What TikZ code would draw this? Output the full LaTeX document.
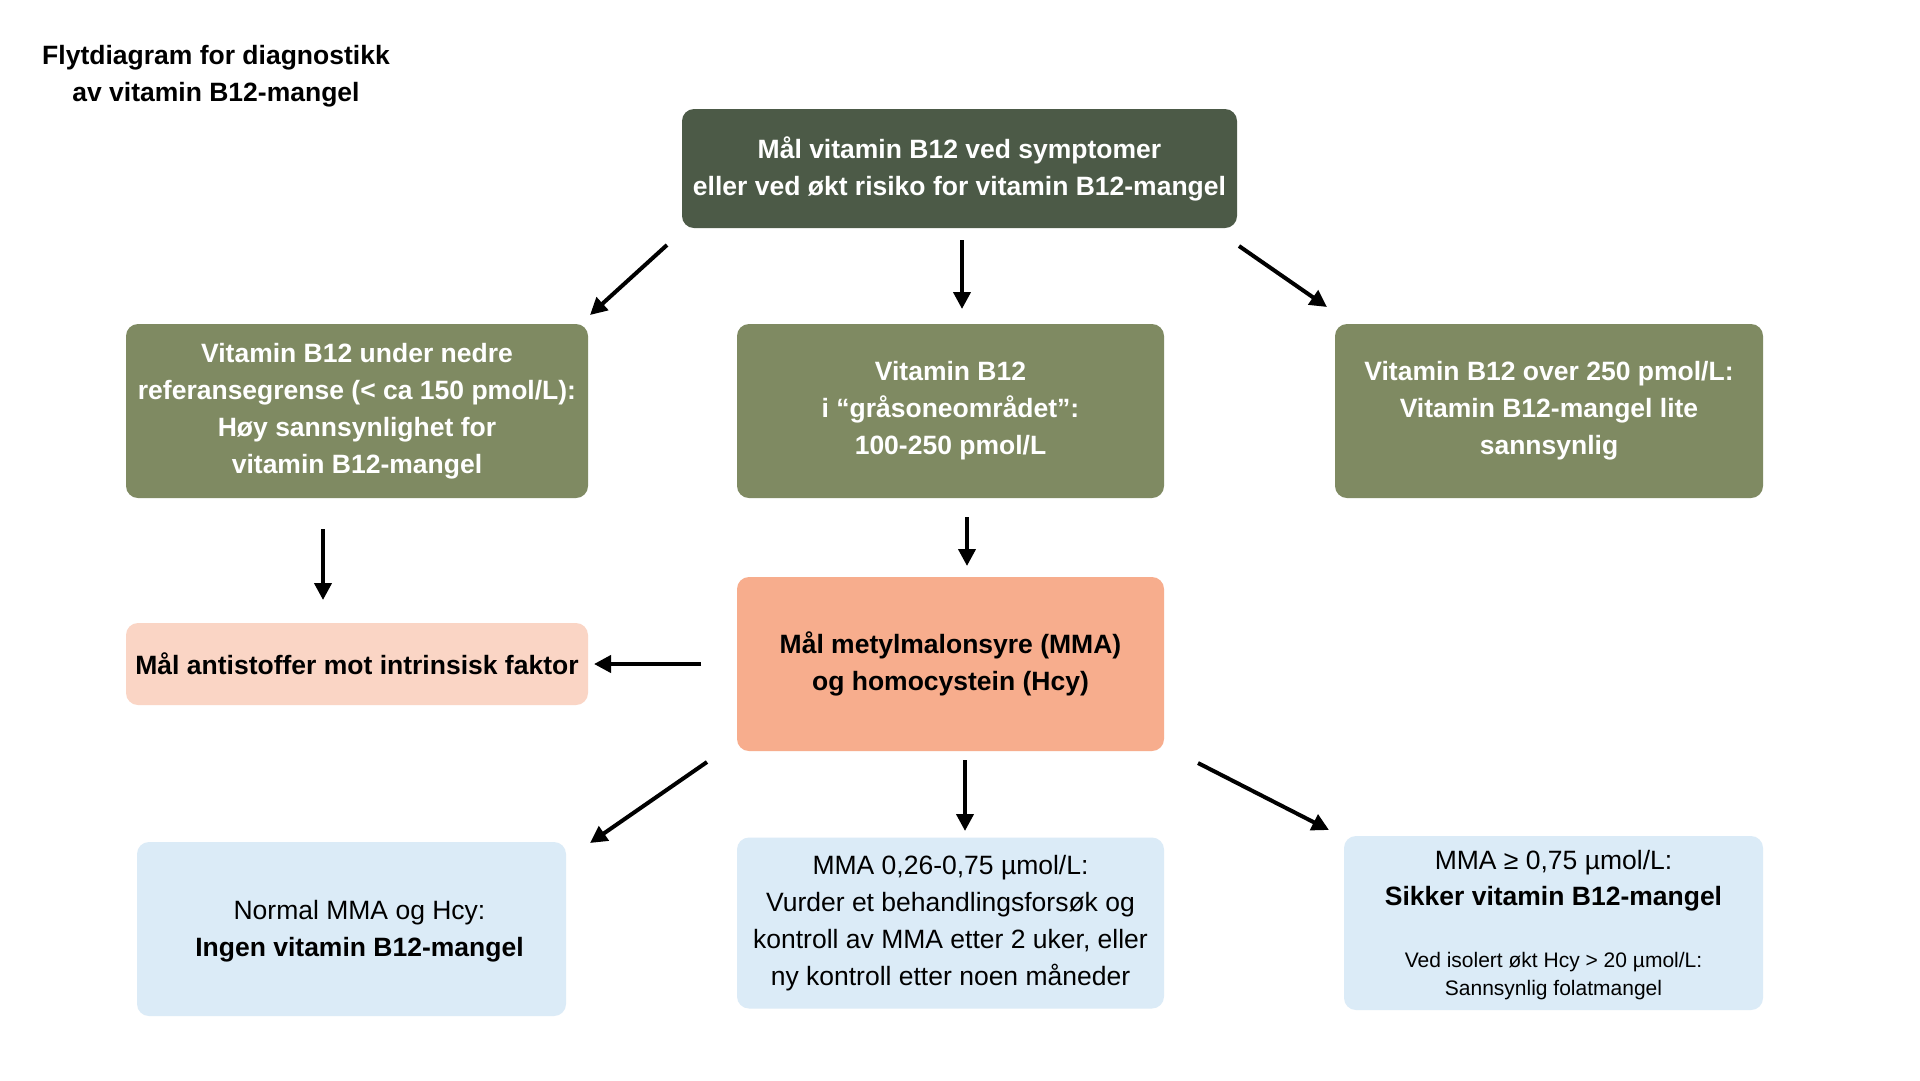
\documentclass[tikz,border=0pt]{standalone}
\usepackage{fontspec}
\setmainfont{Liberation Sans}
\usetikzlibrary{arrows.meta}
\definecolor{cdark}{HTML}{4C5A47}
\definecolor{colive}{HTML}{7F8A62}
\definecolor{csalmon}{HTML}{F7AD8D}
\definecolor{cpink}{HTML}{FAD5C5}
\definecolor{cblue}{HTML}{DBEBF7}
\tikzset{
  box/.style={rounded corners=12pt, inner sep=0pt, align=center,
    font=\fontsize{26.5}{37}\selectfont},
  greenbox/.style={box, fill=colive, text=white, font=\fontsize{26.5}{37}\selectfont\bfseries},
  bluebox/.style={box, fill=cblue, text=black},
  arr/.style={line width=4pt, -{Triangle[width=17pt,length=17pt]}},
}
\begin{document}
\begin{tikzpicture}[x=1pt,y=-1pt]
\useasboundingbox[fill=white] (0,0) rectangle (1920,1080);
% title
\node[align=center, font=\fontsize{26.5}{37}\selectfont\bfseries] (title) at (216,76.5)
  {Flytdiagram for diagnostikk\\av vitamin B12-mangel};
% top
\node[box, fill=cdark, text=white, font=\fontsize{26.5}{37}\selectfont\bfseries,
  minimum width=555pt, minimum height=119pt] (top) at (959.5,168.5)
  {Mål vitamin B12 ved symptomer\\eller ved økt risiko for vitamin B12-mangel};
% row 2
\node[greenbox, minimum width=462pt, minimum height=174pt] (low) at (357,411)
  {Vitamin B12 under nedre\\referansegrense (< ca 150 pmol/L):\\Høy sannsynlighet for\\vitamin B12-mangel};
\node[greenbox, minimum width=427pt, minimum height=174pt] (grey) at (950.5,411)
  {Vitamin B12\\i “gråsoneområdet”:\\100-250 pmol/L};
\node[greenbox, minimum width=428pt, minimum height=174pt] (high) at (1549,411)
  {Vitamin B12 over 250 pmol/L:\\Vitamin B12-mangel lite\\sannsynlig};
% row 3
\node[box, fill=cpink, text=black, font=\fontsize{26.5}{37}\selectfont\bfseries,
  minimum width=462pt, minimum height=82pt] (anti) at (357,664)
  {Mål antistoffer mot intrinsisk faktor};
\node[box, fill=csalmon, text=black, font=\fontsize{26.5}{37}\selectfont\bfseries,
  minimum width=427pt, minimum height=174pt] (mma) at (950.5,664)
  {Mål metylmalonsyre (MMA)\\og homocystein (Hcy)};
% row 4
\node[bluebox, minimum width=429pt, minimum height=174pt] (normal) at (351.5,929) {};
\node[align=center, font=\fontsize{26.5}{37}\selectfont] (normaltxt) at (359.5,931)
  {Normal MMA og Hcy:\\\textbf{Ingen vitamin B12-mangel}};
\node[bluebox, minimum width=427pt, minimum height=171pt] (mid) at (950.5,923)
  {MMA 0,26-0,75 µmol/L:\\Vurder et behandlingsforsøk og\\kontroll av MMA etter 2 uker, eller\\ny kontroll etter noen måneder};
\node[box, fill=cblue, minimum width=419pt, minimum height=174pt] (sure) at (1553.5,923) {};
\node[align=center, font=\fontsize{26.5}{36}\selectfont] (suretxt) at (1553.5,881)
  {MMA ≥ 0,75 µmol/L:\\\textbf{Sikker vitamin B12-mangel}};
\node[align=center, font=\fontsize{21}{28}\selectfont] (folat) at (1553.5,976)
  {Ved isolert økt Hcy > 20 µmol/L:\\Sannsynlig folatmangel};
% arrow end points
\coordinate (a1s) at (667,245); \coordinate (a1e) at (590,315);
\coordinate (a2s) at (962,240); \coordinate (a2e) at (962,309);
\coordinate (a3s) at (1239,246); \coordinate (a3e) at (1327,307);
\coordinate (a4s) at (323,529); \coordinate (a4e) at (323,600);
\coordinate (a5s) at (967,517); \coordinate (a5e) at (967,566);
\coordinate (a6s) at (701,664); \coordinate (a6e) at (594,664);
\coordinate (a7s) at (707,762); \coordinate (a7e) at (590,843);
\coordinate (a8s) at (965,760); \coordinate (a8e) at (965,831);
\coordinate (a9s) at (1198,763); \coordinate (a9e) at (1329,830);
\foreach \i in {1,...,9} \draw[arr] (a\i s) -- (a\i e);
\end{tikzpicture}
\end{document}
